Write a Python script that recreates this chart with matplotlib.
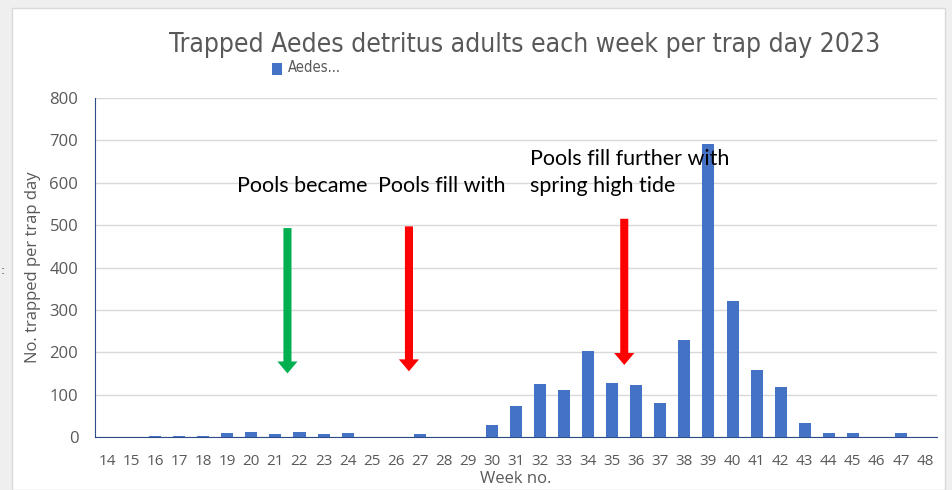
import matplotlib
matplotlib.use("Agg")
import matplotlib.pyplot as plt
from matplotlib.patches import Rectangle

weeks = list(range(14, 49))
counts = [0, 0, 2, 2, 3, 9, 12, 8, 11, 7, 10, 1, 1, 8, 1, 1, 28, 72,
          126, 110, 204, 127, 123, 81, 230, 691, 322, 158, 117, 34, 10, 9, 1, 10, 0]
title = "Trapped Aedes detritus adults each week per trap day 2023"
arrow_weeks = [21.5, 26.55, 35.5]
arrow_tops = [493, 497, 515]
arrow_bottoms = [150, 155, 170]
arrow_colors = ["#00B050", "#FF0000", "#FF0000"]
notes = ["Pools became", "Pools fill with", "Pools fill further with\nspring high tide"]
note_x = [5.40, 11.26, 17.58]
note_y = [592, 592, 624]

fig = plt.figure(figsize=(9.52, 4.90), dpi=100)
fig.patch.set_facecolor("#EFEFEF")
fig.add_artist(Rectangle((12/952, 0), (945-12)/952, 1 - 8/490, transform=fig.transFigure,
                         facecolor="white", edgecolor="#D9D9D9", lw=1, zorder=0))

ax = fig.add_axes([95/952, 1-437/490, (937-95)/952, (437-98)/490])
ax.set_facecolor("none")
x = list(range(len(weeks)))
ax.bar(x, counts, width=0.5, color="#4472C4", zorder=3, label="Aedes...")
ax.set_xlim(-0.5, len(weeks)-0.5)
ax.set_ylim(0, 800)
ax.set_yticks(range(0, 801, 100))
ax.set_xticks(x)
ax.set_xticklabels([str(w) for w in weeks])
ax.grid(axis="y", color="#D9D9D9", lw=1, zorder=0)
for s in ["top", "right"]:
    ax.spines[s].set_visible(False)
ax.spines["left"].set_color("#2F4C8A")
ax.spines["bottom"].set_color("#2F4C8A")
ax.tick_params(length=0, colors="#595959")
ax.tick_params(axis="x", pad=12, labelsize=11)
ax.tick_params(axis="y", pad=12, labelsize=12)
for lab in ax.get_xticklabels() + ax.get_yticklabels():
    lab.set_fontfamily("Open Sans")
ax.set_ylabel("No. trapped per trap day", color="#595959", fontsize=12, family="Open Sans", labelpad=6)
ax.set_xlabel("Week no.", color="#595959", fontsize=12, family="Open Sans", labelpad=2)

for wk, y0, y1, col in zip(arrow_weeks, arrow_tops, arrow_bottoms, arrow_colors):
    xi = wk - weeks[0]
    ax.annotate("", xy=(xi, y1), xytext=(xi, y0),
                arrowprops=dict(arrowstyle="simple,tail_width=0.58,head_width=1.45,head_length=0.86",
                                mutation_scale=10, color=col, shrinkA=0, shrinkB=0, lw=0),
                zorder=4)

for t, tx, ty in zip(notes, note_x, note_y):
    ax.text(tx, ty, t, fontsize=15.5, family="Lato", color="black", va="center",
            linespacing=1.45, zorder=5)

fig.text(525/952, 1-45/490, title, ha="center", va="center", fontsize=19,
         family="DejaVu Sans", fontstretch="condensed", color="#595959")
fig.add_artist(Rectangle((272/952, 1-75/490), 10/952, 12/490, transform=fig.transFigure,
                         facecolor="#4472C4", edgecolor="none"))
fig.text(288/952, 1-68/490, "Aedes...", ha="left", va="center", fontsize=10.5,
         family="DejaVu Sans", fontstretch="condensed", color="#595959")
fig.text(1/952, 1-270/490, ":", fontsize=9, color="#404040", va="center")

fig.savefig("out.png", dpi=100)
